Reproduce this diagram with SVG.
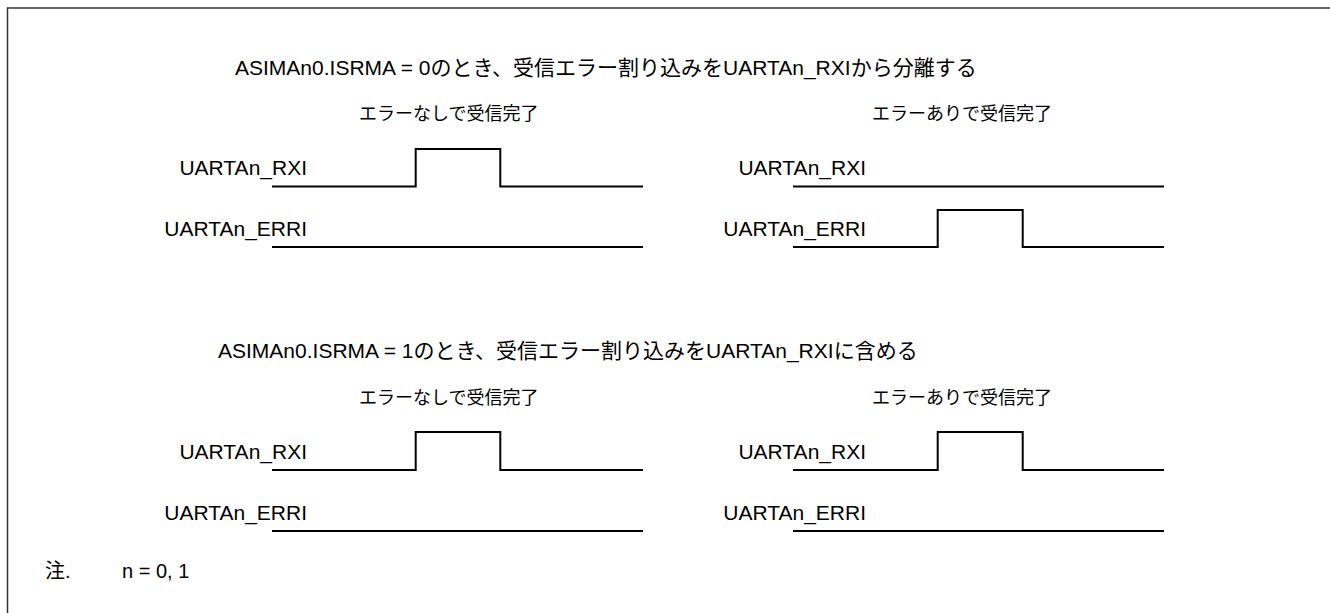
<svg xmlns="http://www.w3.org/2000/svg" width="1330" height="613" viewBox="0 0 1330 613">
<style>
text{font-family:"Liberation Sans","Noto Sans CJK JP",sans-serif;fill:#000}
.t{font-size:21px}
.s{font-size:18px}
.l{font-size:21px;text-anchor:end}
.n{font-size:20px}
.w{fill:none;stroke:#000;stroke-width:2}
</style>
<rect width="1330" height="613" fill="#fff"/>
<path d="M7.5,613 V8 H1330" fill="none" stroke="#333" stroke-width="1.5"/>
<g id="upper">
<text class="t" x="235" y="75">ASIMAn0.ISRMA = 0のとき、受信エラー割り込みをUARTAn_RXIから分離する</text>
<g id="upper-left">
<text class="s" x="359" y="120">エラーなしで受信完了</text>
<text class="l" x="307" y="175">UARTAn_RXI</text>
<text class="l" x="307" y="236">UARTAn_ERRI</text>
<path class="w" d="M272,186.5 H415.7 V149 H500.3 V186.5 H643"/>
<path class="w" d="M272,247 H643"/>
</g>
<g id="upper-right">
<text class="s" x="872" y="120">エラーありで受信完了</text>
<text class="l" x="866" y="175">UARTAn_RXI</text>
<text class="l" x="866" y="236">UARTAn_ERRI</text>
<path class="w" d="M793,186.5 H1164"/>
<path class="w" d="M793,247 H937.7 V210 H1022.7 V247 H1164"/>
</g>
</g>
<g id="lower">
<text class="t" x="218" y="358">ASIMAn0.ISRMA = 1のとき、受信エラー割り込みをUARTAn_RXIに含める</text>
<g id="lower-left">
<text class="s" x="359" y="404">エラーなしで受信完了</text>
<text class="l" x="307" y="458.5">UARTAn_RXI</text>
<text class="l" x="307" y="519.5">UARTAn_ERRI</text>
<path class="w" d="M272,470 H415.7 V432 H500.3 V470 H643"/>
<path class="w" d="M272,531 H643"/>
</g>
<g id="lower-right">
<text class="s" x="872" y="404">エラーありで受信完了</text>
<text class="l" x="866" y="458.5">UARTAn_RXI</text>
<text class="l" x="866" y="519.5">UARTAn_ERRI</text>
<path class="w" d="M793,470 H937.7 V432 H1022.7 V470 H1164"/>
<path class="w" d="M793,531 H1164"/>
</g>
</g>
<g id="note">
<text class="n" x="45" y="578">注.</text>
<text class="n" x="122" y="578">n = 0, 1</text>
</g>
</svg>
